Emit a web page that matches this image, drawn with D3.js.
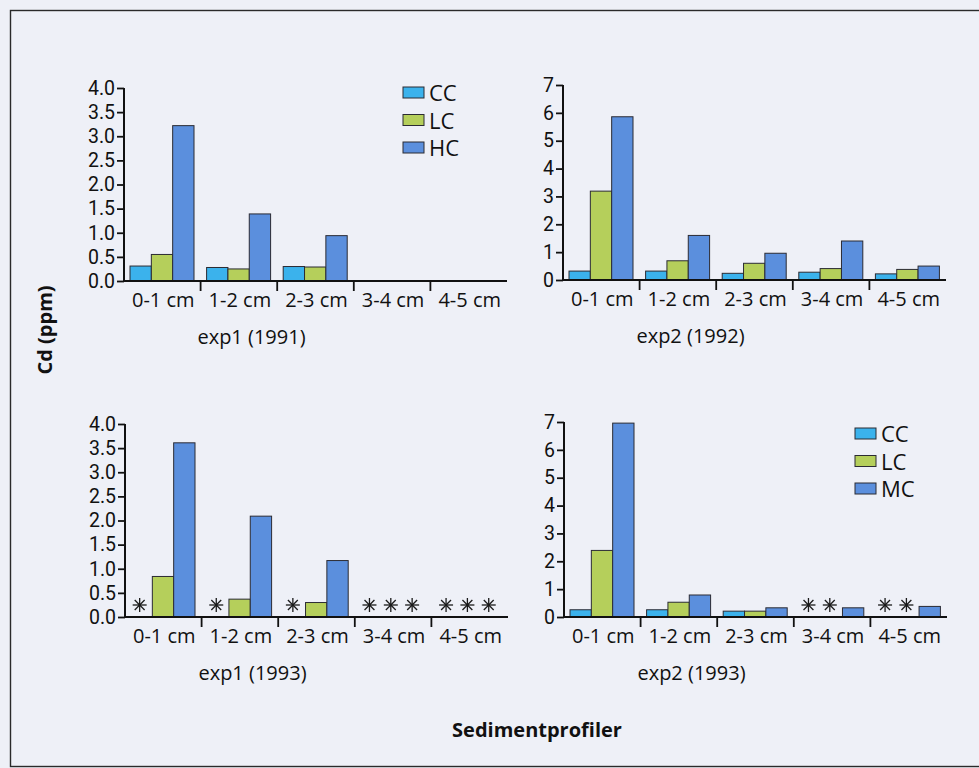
<!DOCTYPE html>
<html>
<head>
<meta charset="utf-8">
<script src="https://cdn.jsdelivr.net/npm/d3@7"></script>
<style>
  html, body { margin: 0; padding: 0; background: #eef0f7; }
  svg { display: block; }
  text { fill: #111; }
</style>
</head>
<body>
<svg id="chart" width="979" height="768" font-family="'Open Sans', 'Noto Sans', sans-serif"></svg>
<script>
// Sediment depth classes (x categories)
const depths = ["0-1 cm", "1-2 cm", "2-3 cm", "3-4 cm", "4-5 cm"];

// Cd concentrations (ppm). null = no bar, "*" = not detected (asterisk)
const exp1_1991_CC = [0.31, 0.28, 0.30, null, null];
const exp1_1991_LC = [0.55, 0.25, 0.29, null, null];
const exp1_1991_HC = [3.22, 1.39, 0.94, null, null];

const exp2_1992_CC = [0.32, 0.32, 0.24, 0.28, 0.22];
const exp2_1992_LC = [3.19, 0.69, 0.60, 0.41, 0.38];
const exp2_1992_HC = [5.86, 1.60, 0.96, 1.40, 0.50];

const exp1_1993_CC = ["*", "*", "*", "*", "*"];
const exp1_1993_LC = [0.84, 0.37, 0.30, "*", "*"];
const exp1_1993_HC = [3.61, 2.09, 1.17, "*", "*"];

const exp2_1993_CC = [0.26, 0.26, 0.21, "*", "*"];
const exp2_1993_LC = [2.39, 0.53, 0.21, "*", "*"];
const exp2_1993_MC = [6.96, 0.79, 0.33, 0.33, 0.38];

// Y-axis tick values
const ticksExp1 = [0, 0.5, 1, 1.5, 2, 2.5, 3, 3.5, 4];
const ticksExp2 = [0, 1, 2, 3, 4, 5, 6, 7];

const legendTop = ["CC", "LC", "HC"];
const legendBottom = ["CC", "LC", "MC"];

const colors = ["#3bb2ec", "#b5cf5b", "#5b8fdd"];

const svg = d3.select("#chart");

// outer frame
svg.append("rect")
  .attr("x", 10.5).attr("y", 10.5)
  .attr("width", 980).attr("height", 756)
  .attr("fill", "none").attr("stroke", "#2a2a2a").attr("stroke-width", 1.4);

const panels = [
  { left: 124, top: 88, bottom: 281, max: 4, ticks: ticksExp1, fmt: d3.format(".1f"),
    series: [exp1_1991_CC, exp1_1991_LC, exp1_1991_HC], title: "exp1 (1991)",
    legend: legendTop, legendX: 403, legendY: 87 },
  { left: 563, top: 85, bottom: 280, max: 7, ticks: ticksExp2, fmt: d3.format("d"),
    series: [exp2_1992_CC, exp2_1992_LC, exp2_1992_HC], title: "exp2 (1992)" },
  { left: 125, top: 424, bottom: 617, max: 4, ticks: ticksExp1, fmt: d3.format(".1f"),
    series: [exp1_1993_CC, exp1_1993_LC, exp1_1993_HC], title: "exp1 (1993)" },
  { left: 564, top: 422, bottom: 617, max: 7, ticks: ticksExp2, fmt: d3.format("d"),
    series: [exp2_1993_CC, exp2_1993_LC, exp2_1993_MC], title: "exp2 (1993)",
    legend: legendBottom, legendX: 855, legendY: 428 }
];

const bandW = 76.6;

// eight-spoked "not detected" marker
function asterisk(g, cx, cy, r) {
  const a = g.append("g").attr("transform", `translate(${cx},${cy})`);
  for (let k = 0; k < 4; k++) {
    const ang = k * Math.PI / 4;
    a.append("line")
      .attr("x1", -r * Math.cos(ang)).attr("y1", -r * Math.sin(ang))
      .attr("x2", r * Math.cos(ang)).attr("y2", r * Math.sin(ang))
      .attr("stroke", "#1a1a1a").attr("stroke-width", 1.3);
  }
  a.append("circle").attr("r", 1.2).attr("fill", "#1a1a1a");
}

panels.forEach(p => {
  const g = svg.append("g");
  const x0 = d3.scaleBand().domain(depths)
    .range([p.left, p.left + bandW * depths.length]).paddingInner(0).paddingOuter(0);
  const x1 = d3.scaleBand().domain(d3.range(3)).range([6, 70]).padding(0);
  const y = d3.scaleLinear().domain([0, p.max]).range([p.bottom, p.top]);

  // bars
  p.series.forEach((vals, si) => {
    vals.forEach((v, di) => {
      const bx = x0(depths[di]) + x1(si);
      if (typeof v === "number") {
        g.append("rect")
          .attr("x", bx).attr("y", y(v))
          .attr("width", x1.bandwidth()).attr("height", y(0) - y(v))
          .attr("fill", colors[si]).attr("stroke", "#2b2b33").attr("stroke-width", 1);
      } else if (v === "*") {
        asterisk(g, bx + x1.bandwidth() / 2 - 2, p.bottom - 12, 7);
      }
    });
  });

  // y axis
  const yAxis = d3.axisLeft(y).tickValues(p.ticks).tickFormat(p.fmt)
    .tickSize(7).tickPadding(2);
  const ya = g.append("g").attr("transform", `translate(${p.left},0)`).call(yAxis);
  ya.select(".domain").remove();
  ya.append("line").attr("x1", 0).attr("x2", 0)
    .attr("y1", p.top).attr("y2", p.bottom)
    .attr("stroke", "#111").attr("stroke-width", 2);
  ya.selectAll(".tick line").attr("stroke", "#111").attr("stroke-width", 1.8);
  ya.selectAll(".tick text")
    .style("font-family", "Roboto, sans-serif")
    .style("font-size", "19.5px")
    .attr("fill", "#111");

  // x axis
  const xa = g.append("g").attr("transform", `translate(0,${p.bottom})`);
  xa.append("line").attr("x1", p.left).attr("x2", p.left + bandW * depths.length)
    .attr("stroke", "#111").attr("stroke-width", 2);
  depths.slice(1).forEach(d => {
    xa.append("line").attr("x1", x0(d)).attr("x2", x0(d))
      .attr("y1", 0).attr("y2", 10).attr("stroke", "#111").attr("stroke-width", 1.8);
  });
  depths.forEach(d => {
    xa.append("text").attr("x", x0(d) + x0.bandwidth() / 2 + 1).attr("y", 26)
      .attr("text-anchor", "middle").attr("font-size", 20).text(d);
  });

  // panel title
  g.append("text")
    .attr("x", p.left + bandW * depths.length / 2 - 64)
    .attr("y", p.bottom + 63)
    .attr("text-anchor", "middle").attr("font-size", 20).text(p.title);

  // legend
  if (p.legend) {
    p.legend.forEach((name, i) => {
      const ly = p.legendY + i * 27.5;
      g.append("rect").attr("x", p.legendX).attr("y", ly)
        .attr("width", 21).attr("height", 11)
        .attr("fill", colors[i]).attr("stroke", "#2b2b33").attr("stroke-width", 1);
      g.append("text").attr("x", p.legendX + 26).attr("y", ly + 14)
        .attr("font-size", 22).text(name);
    });
  }
});

// shared axis titles
svg.append("text")
  .attr("transform", "translate(52,330) rotate(-90)")
  .attr("text-anchor", "middle").attr("font-size", 20).attr("font-weight", "bold")
  .text("Cd (ppm)");

svg.append("text")
  .attr("x", 537).attr("y", 737)
  .attr("text-anchor", "middle").attr("font-size", 20).attr("font-weight", "bold")
  .text("Sedimentprofiler");
</script>
</body>
</html>
